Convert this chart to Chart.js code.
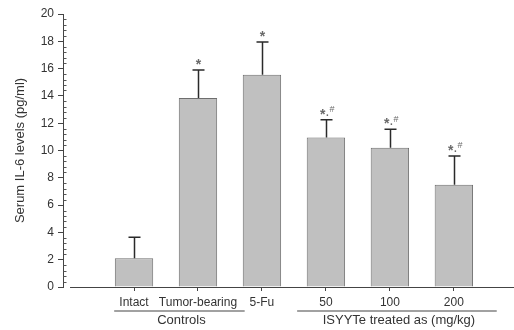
<!DOCTYPE html>
<html>
<head>
<meta charset="utf-8">
<script src="https://cdn.jsdelivr.net/npm/chart.js@4.4.1/dist/chart.umd.min.js"></script>
<style>
html,body{margin:0;padding:0;background:#fff;overflow:hidden;}
#wrap{width:514px;height:330px;position:relative;}
</style>
</head>
<body>
<div id="wrap"><canvas id="c" width="514" height="330"></canvas></div>
<script>
const categories = ['Intact', 'Tumor-bearing', '5-Fu', '50', '100', '200'];
const means = [2.1, 13.85, 15.55, 10.95, 10.2, 7.5];
const errors = [1.55, 2.05, 2.4, 1.3, 1.35, 2.1];
const marks = ['', '*', '*', '*#', '*#', '*#'];
const yTicks = [0, 2, 4, 6, 8, 10, 12, 14, 16, 18, 20];
const groups = [
  {label: 'Controls', from: 0.69, to: 2.73},
  {label: 'ISYYTe treated as (mg/kg)', from: 3.55, to: 6.67}
];

const FONT = '"Liberation Sans", Arial, sans-serif';
const TXT = '#333';

const extras = {
  id: 'extras',
  afterDatasetsDraw(chart) {
    const ctx = chart.ctx;
    const xs = chart.scales.x, ys = chart.scales.y;
    const meta = chart.getDatasetMeta(0);
    ctx.save();
    // x baseline
    ctx.strokeStyle = '#444';
    ctx.lineWidth = 1;
    const y0 = Math.round(ys.getPixelForValue(0)) + 0.5;
    ctx.beginPath();
    ctx.moveTo(xs.getPixelForValue(0), y0);
    ctx.lineTo(chart.width, y0);
    ctx.stroke();
    // minor y ticks
    const ax = Math.round(chart.chartArea.left) + 0.5;
    ctx.strokeStyle = '#555';
    for (let i = 0; i <= 50; i++) {
      if (i % 5 === 0) continue;
      const v = i * 0.4;
      const py = Math.round(ys.getPixelForValue(v)) + 0.5;
      ctx.beginPath();
      ctx.moveTo(ax, py);
      ctx.lineTo(ax + 3, py);
      ctx.stroke();
    }
    // error bars
    ctx.strokeStyle = '#2a2a2a';
    ctx.lineWidth = 1.5;
    meta.data.forEach((bar, i) => {
      const top = ys.getPixelForValue(means[i] + errors[i]);
      const base = ys.getPixelForValue(means[i]);
      const bx = Math.round(bar.x) + 0.5;
      ctx.beginPath();
      ctx.moveTo(bx, base);
      ctx.lineTo(bx, top);
      ctx.moveTo(bx - 6, top);
      ctx.lineTo(bx + 6, top);
      ctx.stroke();
      // significance marks
      const m = marks[i];
      if (m) {
        ctx.fillStyle = '#6a6a6a';
        ctx.textBaseline = 'middle';
        if (m === '*') {
          ctx.font = 'bold 14px ' + FONT;
          ctx.textAlign = 'center';
          ctx.fillText('*', bx, top - 5);
        } else {
          ctx.font = 'bold 14px ' + FONT;
          ctx.textAlign = 'right';
          ctx.fillText('*', bx - 1, top - 5);
          ctx.font = 'bold 10px ' + FONT;
          ctx.textAlign = 'left';
          ctx.fillText('.', bx - 0.5, top - 7);
          ctx.font = '9px ' + FONT;
          ctx.fillText('#', bx + 3, top - 10);
        }
      }
    });
    // group labels
    ctx.strokeStyle = '#444';
    ctx.lineWidth = 1.2;
    ctx.fillStyle = TXT;
    ctx.font = '13px ' + FONT;
    ctx.textAlign = 'center';
    ctx.textBaseline = 'middle';
    groups.forEach(g => {
      const a = xs.getPixelForValue(g.from), b = xs.getPixelForValue(g.to);
      ctx.beginPath();
      ctx.moveTo(a, 311);
      ctx.lineTo(b, 311);
      ctx.stroke();
      ctx.fillText(g.label, (a + b) / 2 + 2, 320);
    });
    ctx.restore();
  }
};

new Chart(document.getElementById('c'), {
  type: 'bar',
  data: {
    datasets: [{
      data: means.map((v, i) => ({x: i + 1, y: v})),
      backgroundColor: '#c0c0c0',
      borderColor: '#6e6e6e',
      borderWidth: 1,
      barPercentage: 0.6,
      categoryPercentage: 1.0
    }]
  },
  options: {
    responsive: false,
    animation: false,
    layout: {padding: {top: 14, right: 0, left: 0, bottom: 0}},
    plugins: {legend: {display: false}, tooltip: {enabled: false}},
    scales: {
      x: {
        type: 'linear',
        offset: false,
        min: -0.11,
        max: 6.94,
        afterBuildTicks: s => { s.ticks = categories.map((c, i) => ({value: i + 1})); },
        afterFit: s => { s.height = 43; s.paddingRight = 0; s.paddingLeft = 0; },
        border: {display: false},
        grid: {display: true, offset: false, drawOnChartArea: false, drawTicks: true, tickLength: 4, color: '#444', tickColor: '#444'},
        ticks: {
          autoSkip: false, maxRotation: 0, padding: 4, color: TXT,
          font: {family: FONT, size: 12},
          callback: v => categories[v - 1] || ''
        }
      },
      y: {
        min: 0,
        max: 20,
        afterBuildTicks: s => { s.ticks = yTicks.map(v => ({value: v})); },
        afterFit: s => { s.width = 63; },
        border: {display: true, color: '#444', width: 1},
        grid: {drawOnChartArea: false, drawTicks: true, tickLength: 5, color: '#444', tickColor: '#444'},
        ticks: {padding: 4, color: TXT, font: {family: FONT, size: 12}},
        title: {display: true, text: 'Serum IL-6 levels (pg/ml)', color: TXT, font: {family: FONT, size: 13}, padding: {top: 13, bottom: 0}}
      }
    }
  },
  plugins: [extras]
});
</script>
</body>
</html>
